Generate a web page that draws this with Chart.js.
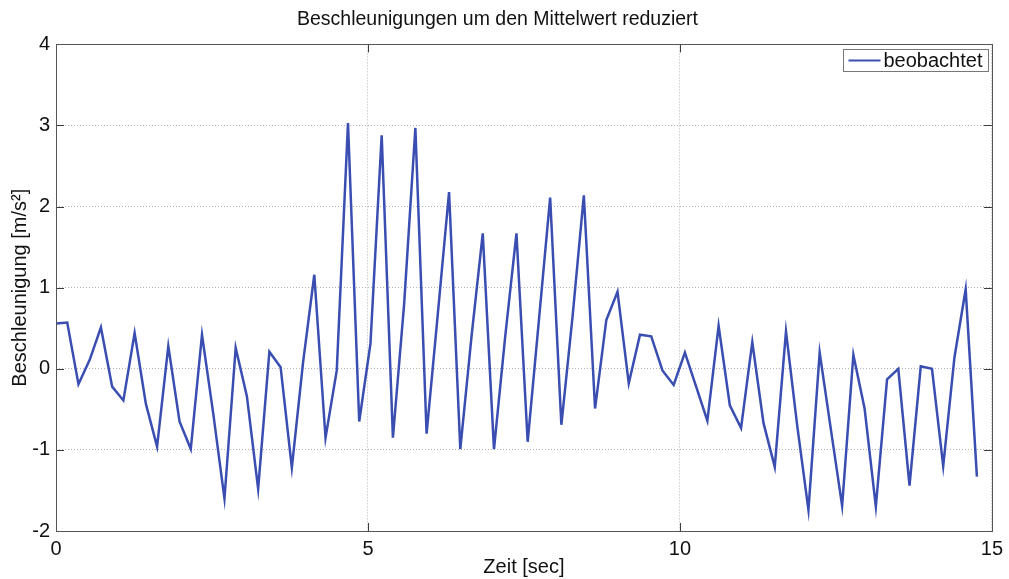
<!DOCTYPE html>
<html>
<head>
<meta charset="utf-8">
<script src="https://cdn.jsdelivr.net/npm/chart.js@4"></script>
<style>
  html, body { margin: 0; padding: 0; background: #fff; }
</style>
</head>
<body>
<canvas id="myChart" width="1009" height="579"></canvas>
<script>
// Zeitachse [s]
const zeit = [
  0, 0.18, 0.36, 0.54, 0.72, 0.9, 1.08, 1.26, 1.44, 1.62,
  1.8, 1.98, 2.16, 2.34, 2.52, 2.7, 2.88, 3.06, 3.24, 3.42,
  3.6, 3.78, 3.96, 4.14, 4.32, 4.5, 4.68, 4.86, 5.04, 5.22,
  5.4, 5.58, 5.76, 5.94, 6.12, 6.3, 6.48, 6.66, 6.84, 7.02,
  7.2, 7.38, 7.56, 7.74, 7.92, 8.1, 8.28, 8.46, 8.64, 8.82,
  9.0, 9.18, 9.36, 9.54, 9.72, 9.9, 10.08, 10.26, 10.44, 10.62,
  10.8, 10.98, 11.16, 11.34, 11.52, 11.7, 11.88, 12.06, 12.24, 12.42,
  12.6, 12.78, 12.96, 13.14, 13.32, 13.5, 13.68, 13.86, 14.04, 14.22,
  14.4, 14.58, 14.76
];

// Beschleunigung minus Mittelwert [m/s²]
const beobachtet = [
  0.56, 0.57, -0.19, 0.11, 0.51, -0.22, -0.39, 0.44, -0.43, -0.96,
  0.28, -0.65, -0.99, 0.42, -0.55, -1.60, 0.26, -0.34, -1.48, 0.21,
  0.02, -1.22, 0.08, 1.16, -0.85, -0.02, 3.03, -0.65, 0.31, 2.88,
  -0.85, 0.80, 2.97, -0.80, 0.68, 2.18, -0.99, 0.40, 1.67, -0.99,
  0.40, 1.67, -0.90, 0.60, 2.11, -0.69, 0.65, 2.14, -0.49, 0.60,
  0.95, -0.18, 0.42, 0.40, -0.02, -0.20, 0.20, -0.22, -0.64, 0.53,
  -0.45, -0.73, 0.33, -0.67, -1.21, 0.46, -0.70, -1.74, 0.20, -0.75,
  -1.69, 0.17, -0.49, -1.70, -0.13, 0.00, -1.44, 0.03, 0.00, -1.20,
  0.14, 0.98, -1.33
];

const xTicks = [0, 5, 10, 15];
const yTicks = [-2, -1, 0, 1, 2, 3, 4];

const FONT = 'Liberation Sans, Arial, Helvetica, sans-serif';
Chart.defaults.font.family = FONT;
Chart.defaults.color = '#111';

// Rahmen um die Achsen mit nach innen zeigenden Ticks
const axesBox = {
  id: 'axesBox',
  afterDatasetsDraw(chart) {
    const {ctx, chartArea: a, scales} = chart;
    const tl = 8;
    ctx.save();
    ctx.strokeStyle = '#3a3a3a';
    ctx.lineWidth = 1;
    ctx.beginPath();
    xTicks.forEach(v => {
      const x = Math.round(scales.x.getPixelForValue(v)) + 0.5;
      ctx.moveTo(x, a.bottom); ctx.lineTo(x, a.bottom - tl);
      ctx.moveTo(x, a.top); ctx.lineTo(x, a.top + tl);
    });
    yTicks.forEach(v => {
      const y = Math.round(scales.y.getPixelForValue(v)) + 0.5;
      ctx.moveTo(a.left, y); ctx.lineTo(a.left + tl, y);
      ctx.moveTo(a.right, y); ctx.lineTo(a.right - tl, y);
    });
    ctx.stroke();
    ctx.strokeStyle = '#555';
    ctx.strokeRect(Math.round(a.left) + 0.5, Math.round(a.top) + 0.5,
      Math.round(a.right - a.left), Math.round(a.bottom - a.top));
    ctx.restore();
  },
  afterDraw(chart) {
    // Legende oben rechts im Achsenfeld
    const {ctx, chartArea: a} = chart;
    const ds = chart.data.datasets[0];
    ctx.save();
    ctx.font = '20px ' + FONT;
    const tw = ctx.measureText(ds.label).width;
    const w = tw + 46, h = 22;
    const x0 = Math.round(a.right - 4 - w) + 0.5;
    const y0 = Math.round(a.top + 5) + 0.5;
    ctx.fillStyle = '#fff';
    ctx.fillRect(x0, y0, w, h);
    ctx.strokeStyle = '#777';
    ctx.lineWidth = 1;
    ctx.strokeRect(x0, y0, w, h);
    ctx.strokeStyle = ds.borderColor;
    ctx.lineWidth = 2;
    ctx.beginPath();
    ctx.moveTo(x0 + 5, y0 + h / 2);
    ctx.lineTo(x0 + 37, y0 + h / 2);
    ctx.stroke();
    ctx.fillStyle = '#111';
    ctx.textBaseline = 'middle';
    ctx.fillText(ds.label, x0 + 40, y0 + h / 2 + 1);
    ctx.restore();
  }
};

const config = {
  type: 'line',
  data: {
    datasets: [{
      label: 'beobachtet',
      data: zeit.map((t, i) => ({x: t, y: beobachtet[i]})),
      borderColor: '#3a4eb2',
      borderWidth: 2.5,
      pointRadius: 0,
      tension: 0,
      fill: false
    }]
  },
  options: {
    responsive: false,
    animation: false,
    devicePixelRatio: 1,
    layout: { padding: { right: 14 } },
    plugins: {
      legend: { display: false },
      tooltip: { enabled: false },
      title: {
        display: true,
        text: 'Beschleunigungen um den Mittelwert reduziert',
        color: '#111',
        font: { size: 19.5, weight: 'normal' },
        padding: { top: 8, bottom: 13 }
      }
    },
    scales: {
      x: {
        type: 'linear',
        min: xTicks[0],
        max: xTicks[xTicks.length - 1],
        afterFit: s => { s.height = 48; },
        afterBuildTicks: s => { s.ticks = xTicks.map(v => ({value: v})); },
        grid: { color: '#b4b4b4', lineWidth: 1, drawTicks: false },
        border: { display: false, dash: [1, 2] },
        ticks: { font: { size: 20 }, padding: 6, color: '#111', maxRotation: 0 },
        title: { display: true, text: 'Zeit [sec]', font: { size: 20 }, color: '#111', padding: { top: 2, bottom: 0 } }
      },
      y: {
        min: yTicks[0],
        max: yTicks[yTicks.length - 1],
        afterFit: s => { s.width = 56; },
        afterBuildTicks: s => { s.ticks = yTicks.map(v => ({value: v})); },
        grid: { color: '#b4b4b4', lineWidth: 1, drawTicks: false },
        border: { display: false, dash: [1, 2] },
        ticks: { font: { size: 20 }, padding: 6, color: '#111' },
        title: { display: true, text: 'Beschleunigung [m/s²]', font: { size: 20 }, color: '#111', padding: { top: 8, bottom: 0 } }
      }
    }
  },
  plugins: [axesBox]
};

const myChart = new Chart(document.getElementById('myChart'), config);
</script>
</body>
</html>
